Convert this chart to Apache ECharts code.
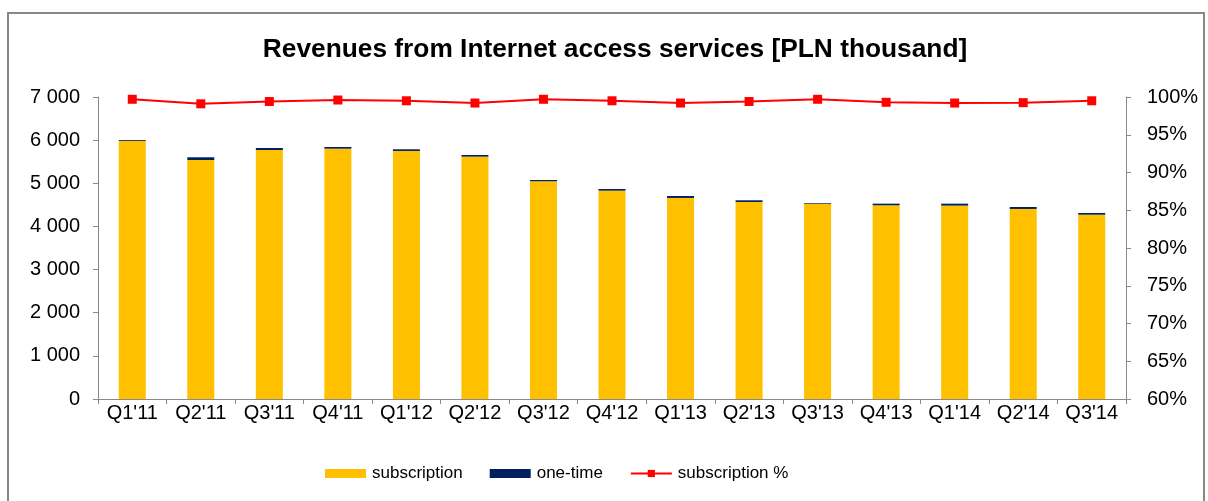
<!DOCTYPE html>
<html><head><meta charset="utf-8">
<script src="https://cdn.jsdelivr.net/npm/echarts@6/dist/echarts.min.js"></script>
<style>html,body{margin:0;padding:0;background:#fff}#c{width:1208px;height:501px}</style>
</head><body><div id="c"></div>
<script>
const categories = ["Q1'11","Q2'11","Q3'11","Q4'11","Q1'12","Q2'12","Q3'12","Q4'12","Q1'13","Q2'13","Q3'13","Q4'13","Q1'14","Q2'14","Q3'14"];
const subscription = [5980,5540,5772,5802,5749,5617,5047,4829,4660,4567,4527,4490,4483,4405,4272];
const oneTime = [20,63,46,39,39,39,29,39,46,39,16,38,45,46,40];
const subscriptionPct = [99.7,99.1,99.4,99.6,99.5,99.2,99.7,99.5,99.2,99.4,99.7,99.3,99.2,99.25,99.5];

const chart = echarts.init(document.getElementById('c'));
const font = 'Liberation Sans, Arial, sans-serif';
const axisGray = '#898989';
chart.setOption({
  animation: false,
  textStyle: {fontFamily: font},
  graphic: [{
    type: 'rect', shape: {x: 8, y: 13, width: 1196, height: 520},
    style: {fill: 'none', stroke: '#878787', lineWidth: 2}, silent: true, z: -1
  }],
  title: {
    text: 'Revenues from Internet access services [PLN thousand]',
    left: 610, top: 32, textAlign: 'center',
    textStyle: {fontFamily: font, fontSize: 26.3, fontWeight: 'bold', color: '#000'}
  },
  legend: {
    top: 460, left: 320, itemGap: 27, itemWidth: 41, itemHeight: 9,
    textStyle: {fontFamily: font, fontSize: 17, color: '#000', padding: [0,0,0,1]},
    data: [
      {name: 'subscription', icon: 'rect'},
      {name: 'one-time', icon: 'rect'},
      {name: 'subscription %'}
    ]
  },
  grid: {left: 98, right: 82, top: 97, bottom: 102},
  xAxis: {
    type: 'category', data: categories, boundaryGap: true,
    axisLine: {lineStyle: {color: axisGray}},
    axisTick: {show: true, alignWithLabel: false, length: 5, lineStyle: {color: axisGray}},
    axisLabel: {fontFamily: font, fontSize: 20, color: '#000', margin: 4, interval: 0}
  },
  yAxis: [{
    type: 'value', min: 0, max: 7000, interval: 1000,
    axisLine: {show: true, lineStyle: {color: axisGray}},
    axisTick: {show: true, length: 5, lineStyle: {color: axisGray}},
    splitLine: {show: false},
    axisLabel: {fontFamily: font, fontSize: 20, color: '#000', margin: 18,
      formatter: v => String(v).replace(/\B(?=(\d{3})+(?!\d))/g, ' ')}
  }, {
    type: 'value', min: 60, max: 100, interval: 5, position: 'right',
    axisLine: {show: true, lineStyle: {color: axisGray}},
    axisTick: {show: true, length: 5, lineStyle: {color: axisGray}},
    splitLine: {show: false},
    axisLabel: {fontFamily: font, fontSize: 20, color: '#000', margin: 21, formatter: '{value}%'}
  }],
  series: [{
    name: 'subscription', type: 'bar', stack: 'rev', data: subscription,
    barWidth: 27, itemStyle: {color: '#FFC000'}
  }, {
    name: 'one-time', type: 'bar', stack: 'rev', data: oneTime,
    barWidth: 27, itemStyle: {color: '#002060'}
  }, {
    name: 'subscription %', type: 'line', yAxisIndex: 1, data: subscriptionPct,
    symbol: 'rect', symbolSize: 9, itemStyle: {color: '#FF0000'},
    lineStyle: {color: '#FF0000', width: 2}
  }]
});
</script></body></html>
